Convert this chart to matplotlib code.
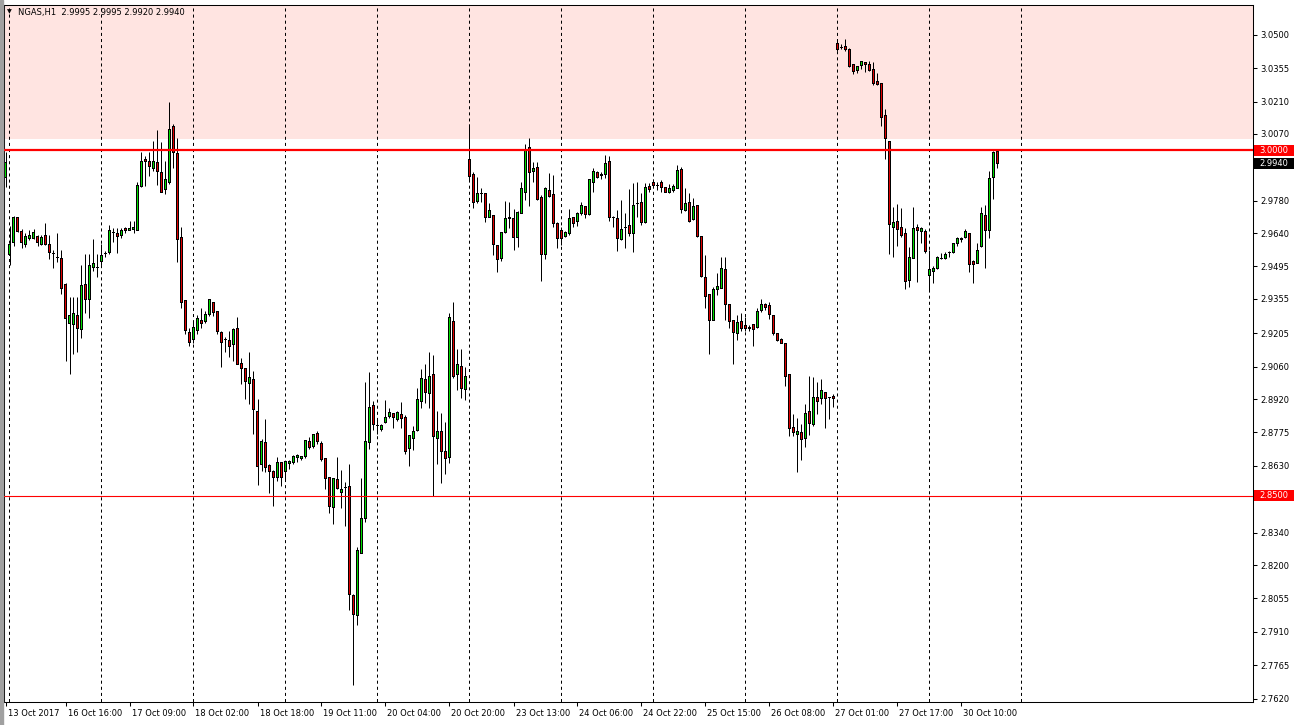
import matplotlib
matplotlib.use('Agg')
import matplotlib.pyplot as plt
from matplotlib.transforms import ScaledTranslation, blended_transform_factory
from matplotlib.patches import Rectangle

# NGAS H1 candles (13 Oct 2017 .. 30 Oct 2017)
opens = [
    2.9883, 2.9548, 2.9600, 2.9709, 2.9648, 2.9591, 2.9617, 2.9617, 2.9626, 2.9591,
    2.9630, 2.9591, 2.9552, 2.9535, 2.9530, 2.9417, 2.9248, 2.9243, 2.9283, 2.9222,
    2.9417, 2.9352, 2.9491, 2.9491, 2.9517, 2.9552, 2.9557, 2.9643, 2.9639, 2.9630,
    2.9661, 2.9652, 2.9657, 2.9652, 2.9843, 2.9961, 2.9952, 2.9922, 2.9948, 2.9904,
    2.9830, 2.9861, 3.0100, 2.9983, 2.9622, 2.9348, 2.9209, 2.9178, 2.9217, 2.9261,
    2.9257, 2.9287, 2.9339, 2.9300, 2.9209, 2.9178, 2.9174, 2.9157, 2.9226, 2.9074,
    2.9052, 2.8987, 2.9004, 2.8865, 2.8635, 2.8730, 2.8630, 2.8604, 2.8578, 2.8643,
    2.8604, 2.8639, 2.8643, 2.8665, 2.8661, 2.8670, 2.8735, 2.8713, 2.8770, 2.8726,
    2.8661, 2.8578, 2.8448, 2.8570, 2.8513, 2.8535, 2.8539, 2.8070, 2.7983, 2.8252,
    2.8404, 2.8730, 2.8891, 2.8804, 2.8787, 2.8817, 2.8843, 2.8857, 2.8830, 2.8852,
    2.8839, 2.8704, 2.8748, 2.8783, 2.8909, 2.9004, 2.8943, 2.9026, 2.8748, 2.8778,
    2.8691, 2.8665, 2.9257, 2.9026, 2.9061, 2.8961, 2.9961, 2.9896, 2.9778, 2.9813,
    2.9813, 2.9709, 2.9717, 2.9587, 2.9530, 2.9643, 2.9709, 2.9704, 2.9622, 2.9726,
    2.9817, 3.0009, 2.9909, 2.9926, 2.9796, 2.9548, 2.9826, 2.9809, 2.9683, 2.9652,
    2.9626, 2.9639, 2.9709, 2.9691, 2.9726, 2.9757, 2.9722, 2.9857, 2.9904, 2.9896,
    2.9896, 2.9952, 2.9709, 2.9704, 2.9613, 2.9665, 2.9674, 2.9639, 2.9770, 2.9774,
    2.9687, 2.9843, 2.9861, 2.9848, 2.9857, 2.9839, 2.9817, 2.9826, 2.9835, 2.9917,
    2.9739, 2.9774, 2.9700, 2.9761, 2.9626, 2.9448, 2.9374, 2.9261, 2.9396, 2.9400,
    2.9483, 2.9330, 2.9261, 2.9204, 2.9257, 2.9239, 2.9230, 2.9243, 2.9230, 2.9304,
    2.9330, 2.9326, 2.9283, 2.9204, 2.9178, 2.9161, 2.9026, 2.8796, 2.8765, 2.8774,
    2.8748, 2.8865, 2.8809, 2.8926, 2.8922, 2.8948, 2.8926, 2.8930, 3.0461, 3.0444,
    3.0448, 3.0435, 3.0370, 3.0343, 3.0365, 3.0378, 3.0370, 3.0348, 3.0296, 3.0287,
    3.0148, 3.0039, 2.9665, 2.9691, 2.9665, 2.9639, 2.9435, 2.9530, 2.9665, 2.9648,
    2.9648, 2.9456, 2.9474, 2.9487, 2.9530, 2.9530, 2.9557, 2.9557, 2.9596, 2.9613,
    2.9622, 2.9639, 2.9517, 2.9509, 2.9583, 2.9717, 2.9652, 2.9883, 2.9995,
]
highs = [
    2.9991, 2.9670, 2.9713, 2.9709, 2.9657, 2.9639, 2.9652, 2.9657, 2.9630, 2.9630,
    2.9683, 2.9630, 2.9565, 2.9639, 2.9565, 2.9422, 2.9361, 2.9361, 2.9361, 2.9500,
    2.9548, 2.9548, 2.9613, 2.9548, 2.9591, 2.9561, 2.9674, 2.9661, 2.9661, 2.9661,
    2.9665, 2.9691, 2.9691, 2.9861, 2.9991, 2.9974, 2.9991, 3.0039, 3.0087, 3.0035,
    2.9952, 3.0209, 3.0113, 3.0052, 2.9665, 2.9348, 2.9230, 2.9252, 2.9283, 2.9317,
    2.9300, 2.9352, 2.9339, 2.9300, 2.9217, 2.9187, 2.9217, 2.9226, 2.9274, 2.9100,
    2.9052, 2.9122, 2.9043, 2.8922, 2.8748, 2.8835, 2.8639, 2.8613, 2.8670, 2.8648,
    2.8652, 2.8657, 2.8678, 2.8683, 2.8674, 2.8743, 2.8757, 2.8770, 2.8783, 2.8739,
    2.8661, 2.8578, 2.8578, 2.8670, 2.8613, 2.8561, 2.8639, 2.8074, 2.8278, 2.8578,
    2.8996, 2.9039, 2.8913, 2.8835, 2.8813, 2.8917, 2.8883, 2.8857, 2.8870, 2.8909,
    2.8852, 2.8761, 2.8804, 2.8970, 2.9052, 2.9070, 2.9122, 2.9109, 2.8870, 2.8861,
    2.8822, 2.9291, 2.9343, 2.9139, 2.9135, 2.9057, 3.0113, 2.9904, 2.9883, 2.9835,
    2.9813, 2.9770, 2.9717, 2.9587, 2.9643, 2.9778, 2.9774, 2.9743, 2.9735, 2.9861,
    3.0026, 3.0052, 2.9948, 2.9948, 2.9804, 2.9839, 2.9900, 2.9891, 2.9687, 2.9665,
    2.9648, 2.9743, 2.9709, 2.9730, 2.9774, 2.9757, 2.9870, 2.9922, 2.9909, 2.9904,
    2.9978, 2.9974, 2.9713, 2.9739, 2.9783, 2.9726, 2.9830, 2.9857, 2.9861, 2.9813,
    2.9857, 2.9857, 2.9874, 2.9861, 2.9870, 2.9839, 2.9852, 2.9852, 2.9935, 2.9926,
    2.9835, 2.9813, 2.9791, 2.9761, 2.9626, 2.9543, 2.9374, 2.9404, 2.9465, 2.9535,
    2.9535, 2.9330, 2.9261, 2.9283, 2.9291, 2.9274, 2.9243, 2.9243, 2.9313, 2.9352,
    2.9335, 2.9339, 2.9283, 2.9204, 2.9183, 2.9161, 2.9026, 2.8857, 2.8839, 2.8813,
    2.8900, 2.9022, 2.9017, 2.8996, 2.9009, 2.8948, 2.8930, 2.8943, 3.0478, 3.0461,
    3.0483, 3.0443, 3.0370, 3.0365, 3.0387, 3.0378, 3.0387, 3.0383, 3.0335, 3.0287,
    3.0178, 3.0039, 2.9752, 2.9765, 2.9748, 2.9661, 2.9578, 2.9752, 2.9678, 2.9665,
    2.9657, 2.9565, 2.9496, 2.9539, 2.9552, 2.9557, 2.9561, 2.9596, 2.9622, 2.9622,
    2.9657, 2.9639, 2.9522, 2.9596, 2.9752, 2.9761, 2.9909, 2.9996, 2.9995,
]
lows = [
    2.9839, 2.9500, 2.9583, 2.9643, 2.9574, 2.9578, 2.9609, 2.9613, 2.9583, 2.9587,
    2.9587, 2.9526, 2.9487, 2.9513, 2.9374, 2.9083, 2.9030, 2.9117, 2.9126, 2.9183,
    2.9291, 2.9270, 2.9474, 2.9448, 2.9500, 2.9535, 2.9548, 2.9600, 2.9552, 2.9617,
    2.9639, 2.9652, 2.9639, 2.9652, 2.9839, 2.9843, 2.9887, 2.9909, 2.9848, 2.9817,
    2.9809, 2.9852, 2.9922, 2.9513, 2.9313, 2.9200, 2.9148, 2.9161, 2.9204, 2.9230,
    2.9248, 2.9278, 2.9278, 2.9204, 2.9057, 2.9126, 2.9104, 2.9087, 2.9070, 2.8987,
    2.8922, 2.8900, 2.8770, 2.8548, 2.8609, 2.8604, 2.8513, 2.8457, 2.8565, 2.8543,
    2.8565, 2.8617, 2.8639, 2.8648, 2.8657, 2.8665, 2.8704, 2.8709, 2.8726, 2.8652,
    2.8530, 2.8426, 2.8378, 2.8530, 2.8448, 2.8370, 2.8004, 2.7678, 2.7939, 2.8252,
    2.8387, 2.8704, 2.8787, 2.8770, 2.8783, 2.8817, 2.8839, 2.8796, 2.8826, 2.8796,
    2.8683, 2.8630, 2.8700, 2.8783, 2.8883, 2.8904, 2.8883, 2.8500, 2.8639, 2.8557,
    2.8596, 2.8643, 2.9013, 2.8961, 2.8926, 2.8917, 2.9870, 2.9748, 2.9770, 2.9774,
    2.9687, 2.9709, 2.9543, 2.9470, 2.9517, 2.9639, 2.9661, 2.9565, 2.9578, 2.9726,
    2.9783, 2.9757, 2.9861, 2.9783, 2.9430, 2.9526, 2.9796, 2.9665, 2.9574, 2.9587,
    2.9622, 2.9630, 2.9665, 2.9670, 2.9717, 2.9704, 2.9717, 2.9817, 2.9878, 2.9874,
    2.9878, 2.9691, 2.9665, 2.9561, 2.9609, 2.9574, 2.9626, 2.9557, 2.9709, 2.9674,
    2.9683, 2.9817, 2.9839, 2.9826, 2.9817, 2.9817, 2.9813, 2.9817, 2.9835, 2.9726,
    2.9735, 2.9687, 2.9696, 2.9622, 2.9448, 2.9313, 2.9117, 2.9261, 2.9370, 2.9400,
    2.9261, 2.9226, 2.9074, 2.9174, 2.9217, 2.9213, 2.9217, 2.9148, 2.9226, 2.9296,
    2.9304, 2.9265, 2.9196, 2.9170, 2.9161, 2.8978, 2.8761, 2.8761, 2.8604, 2.8657,
    2.8713, 2.8765, 2.8804, 2.8857, 2.8900, 2.8796, 2.8835, 2.8887, 3.0430, 3.0439,
    3.0430, 3.0361, 3.0330, 3.0335, 3.0352, 3.0339, 3.0343, 3.0283, 3.0283, 3.0104,
    2.9961, 2.9548, 2.9535, 2.9583, 2.9622, 2.9396, 2.9404, 2.9530, 2.9426, 2.9596,
    2.9552, 2.9391, 2.9422, 2.9483, 2.9526, 2.9526, 2.9535, 2.9552, 2.9583, 2.9600,
    2.9617, 2.9470, 2.9422, 2.9509, 2.9578, 2.9487, 2.9617, 2.9787, 2.9920,
]
closes = [
    2.9948, 2.9591, 2.9709, 2.9648, 2.9600, 2.9626, 2.9630, 2.9643, 2.9600, 2.9622,
    2.9591, 2.9557, 2.9552, 2.9535, 2.9400, 2.9270, 2.9283, 2.9291, 2.9226, 2.9413,
    2.9352, 2.9500, 2.9509, 2.9491, 2.9543, 2.9552, 2.9652, 2.9643, 2.9626, 2.9652,
    2.9652, 2.9661, 2.9665, 2.9848, 2.9952, 2.9952, 2.9930, 2.9952, 2.9909, 2.9817,
    2.9874, 3.0091, 2.9991, 2.9613, 2.9339, 2.9217, 2.9165, 2.9230, 2.9270, 2.9248,
    2.9287, 2.9352, 2.9296, 2.9213, 2.9165, 2.9178, 2.9148, 2.9222, 2.9070, 2.9052,
    2.8996, 2.9013, 2.8874, 2.8626, 2.8735, 2.8622, 2.8604, 2.8578, 2.8643, 2.8578,
    2.8648, 2.8648, 2.8670, 2.8674, 2.8670, 2.8739, 2.8709, 2.8765, 2.8735, 2.8657,
    2.8574, 2.8452, 2.8574, 2.8530, 2.8526, 2.8535, 2.8074, 2.7987, 2.8265, 2.8400,
    2.8735, 2.8883, 2.8809, 2.8804, 2.8804, 2.8839, 2.8861, 2.8839, 2.8861, 2.8835,
    2.8691, 2.8761, 2.8778, 2.8917, 2.9009, 2.8948, 2.9017, 2.8757, 2.8778, 2.8691,
    2.8661, 2.9274, 2.9017, 2.9070, 2.8965, 2.9017, 2.9887, 2.9774, 2.9813, 2.9813,
    2.9709, 2.9739, 2.9591, 2.9526, 2.9643, 2.9704, 2.9704, 2.9622, 2.9730, 2.9835,
    2.9996, 2.9904, 2.9922, 2.9787, 2.9548, 2.9835, 2.9800, 2.9683, 2.9617, 2.9617,
    2.9643, 2.9704, 2.9683, 2.9726, 2.9761, 2.9722, 2.9870, 2.9909, 2.9883, 2.9891,
    2.9943, 2.9709, 2.9709, 2.9617, 2.9657, 2.9665, 2.9639, 2.9761, 2.9770, 2.9687,
    2.9839, 2.9830, 2.9848, 2.9848, 2.9839, 2.9817, 2.9835, 2.9843, 2.9913, 2.9743,
    2.9770, 2.9691, 2.9757, 2.9626, 2.9452, 2.9365, 2.9261, 2.9396, 2.9409, 2.9487,
    2.9330, 2.9257, 2.9209, 2.9252, 2.9226, 2.9226, 2.9226, 2.9222, 2.9300, 2.9330,
    2.9317, 2.9287, 2.9204, 2.9174, 2.9161, 2.9017, 2.8791, 2.8774, 2.8778, 2.8743,
    2.8857, 2.8813, 2.8926, 2.8909, 2.8957, 2.8922, 2.8926, 2.8922, 3.0435, 3.0444,
    3.0435, 3.0361, 3.0339, 3.0361, 3.0383, 3.0370, 3.0343, 3.0287, 3.0283, 3.0143,
    3.0048, 2.9678, 2.9687, 2.9657, 2.9630, 2.9430, 2.9535, 2.9661, 2.9652, 2.9661,
    2.9561, 2.9483, 2.9487, 2.9535, 2.9530, 2.9548, 2.9557, 2.9596, 2.9617, 2.9617,
    2.9648, 2.9504, 2.9504, 2.9565, 2.9726, 2.9652, 2.9878, 2.9991, 2.9940,
]

# time axis labels (bar index where each label sits)
label_bars = [0, 15, 31, 47, 63, 79, 95, 111, 127, 143, 159, 175, 191, 207, 223, 239]
label_text = ['13 Oct 2017', '16 Oct 16:00', '17 Oct 09:00', '18 Oct 02:00',
              '18 Oct 18:00', '19 Oct 11:00', '20 Oct 04:00', '20 Oct 20:00',
              '23 Oct 13:00', '24 Oct 06:00', '24 Oct 22:00', '25 Oct 15:00',
              '26 Oct 08:00', '27 Oct 01:00', '27 Oct 17:00', '30 Oct 10:00']
price_ticks = [3.0500, 3.0355, 3.0210, 3.0070, 2.9925, 2.9780, 2.9640, 2.9495,
               2.9355, 2.9205, 2.9060, 2.8920, 2.8775, 2.8630, 2.8485, 2.8340,
               2.8200, 2.8055, 2.7910, 2.7765, 2.7620]
hidden_ticks = [2.9925, 2.8485]   # covered by the price markers

resistance = 3.0000
support = 2.8500
zone_low, zone_high = 3.0046, 3.0700
header = 'NGAS,H1  2.9995 2.9995 2.9920 2.9940'

plt.rcParams['font.family'] = ['DejaVu Sans']
plt.rcParams['lines.scale_dashes'] = False

fig = plt.figure(figsize=(12.96, 7.25), dpi=100)
ax = fig.add_axes([4 / 1296, 23 / 725, 1249 / 1296, 697 / 725])
fig.patches.append(Rectangle((0, 0), 3 / 1296, 1, transform=fig.transFigure,
                             color='#a0a0a0', zorder=0))

n = len(opens)
xs = list(range(n))
px = (3.0629 - 2.7606) / 697   # one pixel in price units

# resistance zone and levels
ax.axhspan(zone_low, zone_high, color='#ffe4e1', zorder=0, lw=0)
ax.axhline(resistance, color='#ff0000', lw=1.6, zorder=5)
ax.axhline(support, color='#ff0000', lw=0.8, zorder=5)

# vertical grid (every 23 bars)
grid_x = [0.875 + 23 * k for k in range(12)]
ax.vlines(grid_x, 2.70, 3.10, colors='black', lw=0.72,
          linestyles=(0, (2.2, 2.2)), zorder=1)

# candles: wick, black body frame, coloured body fill (1px / 3px / 1px)
ax.vlines(xs, lows, highs, colors='black', lw=0.72, zorder=2)
for i in xs:
    o, c = opens[i], closes[i]
    lo, hi = min(o, c), max(o, c)
    ax.bar(i, hi - lo + px, bottom=lo - px / 2, width=0.75, color='black',
           lw=0, zorder=3)
    if hi - lo > 1.5 * px:
        fill = '#00dd00' if c > o else '#e00000'
        ax.bar(i, hi - lo - px, bottom=lo + px / 2, width=0.25, color=fill,
               lw=0, zorder=4)

ax.set_xlim(-0.375, 311.875)
ax.set_ylim(2.7606, 3.0629)

# axes styling
for sp in ax.spines.values():
    sp.set_linewidth(0.75)
    sp.set_color('black')
ax.yaxis.tick_right()
ax.set_yticks(price_ticks)
ax.set_yticklabels(['' if v in hidden_ticks else '%.4f' % v for v in price_ticks])
ax.tick_params(axis='y', direction='out', length=3, width=0.75, labelsize=6,
               pad=2, colors='black')
ax.set_xticks(label_bars)
ax.set_xticklabels(label_text)
ax.tick_params(axis='x', direction='out', length=3, width=0.75, labelsize=6,
               pad=2, colors='black')
offset = ScaledTranslation(2 / 100, 0, fig.dpi_scale_trans)
for lab in ax.get_xticklabels():
    lab.set_horizontalalignment('left')
    lab.set_transform(lab.get_transform() + offset)

# price markers on the right scale
btrans = blended_transform_factory(ax.transAxes, ax.transData)
for val, fc in [(resistance, '#ff0000'), (closes[-1], '#000000'), (support, '#ff0000')]:
    ax.add_patch(Rectangle((1.0005, val - 5.5 * px), 40 / 1249, 11 * px,
                           transform=btrans, fc=fc, ec=fc, lw=0,
                           clip_on=False, zorder=10))
    ax.text(1.0005 + 20 / 1249, val, '%.4f' % val, transform=btrans,
            ha='center', va='center', fontsize=6, color='white', zorder=11,
            clip_on=False)

# header
ax.text(0.0025, 0.994, '\u25bc', transform=ax.transAxes, ha='left', va='top',
        fontsize=4.5, color='black')
ax.text(0.011, 0.996, header, transform=ax.transAxes, ha='left', va='top',
        fontsize=6, color='black')

fig.savefig('out.png', dpi=100)
